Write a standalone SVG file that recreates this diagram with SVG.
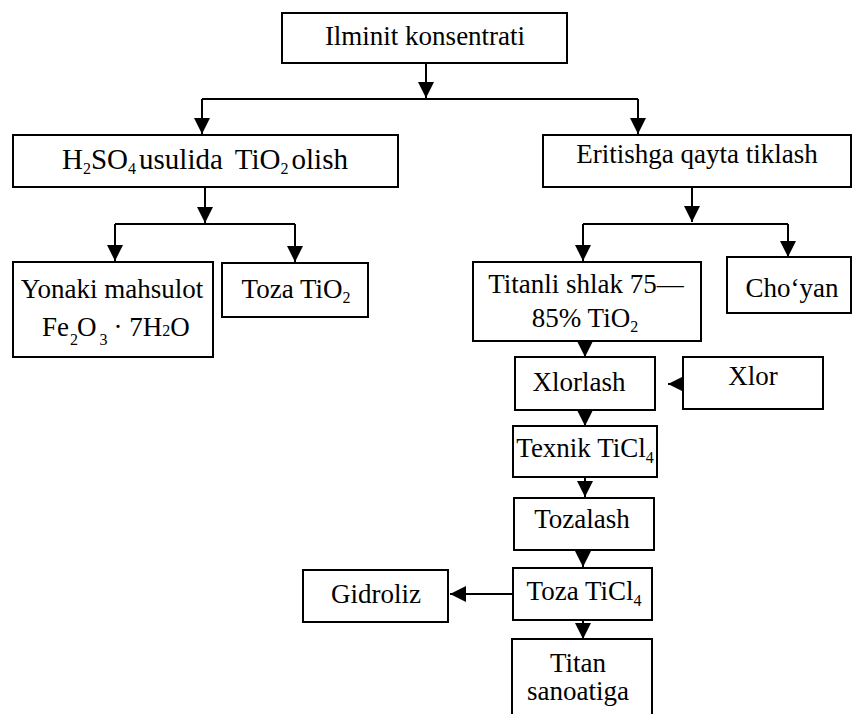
<svg xmlns="http://www.w3.org/2000/svg" width="853" height="714" viewBox="0 0 853 714">
<style>
.box{fill:#fff;stroke:#000;stroke-width:2}
.t{font-family:"Liberation Serif","Times New Roman",serif;font-size:27px;fill:#000}
.m{text-anchor:middle}
.s{font-size:16px}
.c{fill:none;stroke:#000;stroke-width:2}
</style>
<defs>
<marker id="ah" markerUnits="userSpaceOnUse" viewBox="0 0 16 16" refX="16" refY="8" markerWidth="16" markerHeight="16" orient="auto">
<path d="M0,0 L16,8 L0,16 z" fill="#000"/>
</marker>
</defs>
<rect width="853" height="714" fill="#fff"/>
<g id="connectors">
<path class="c" d="M426,63 V98" marker-end="url(#ah)"/>
<path class="c" d="M202,99 H638"/>
<path class="c" d="M202,99 V134" marker-end="url(#ah)"/>
<path class="c" d="M638,99 V134" marker-end="url(#ah)"/>
<path class="c" d="M205,187 V223" marker-end="url(#ah)"/>
<path class="c" d="M115,224 H295"/>
<path class="c" d="M115,224 V261" marker-end="url(#ah)"/>
<path class="c" d="M295,224 V262" marker-end="url(#ah)"/>
<path class="c" d="M692,187 V222" marker-end="url(#ah)"/>
<path class="c" d="M583,224 H788"/>
<path class="c" d="M583,224 V261" marker-end="url(#ah)"/>
<path class="c" d="M788,224 V257" marker-end="url(#ah)"/>
<path class="c" d="M585,341 V357" marker-end="url(#ah)"/>
<path class="c" d="M683,384 H668" marker-end="url(#ah)"/>
<path class="c" d="M585,410 V426" marker-end="url(#ah)"/>
<path class="c" d="M585,477 V497" marker-end="url(#ah)"/>
<path class="c" d="M583,550 V567" marker-end="url(#ah)"/>
<path class="c" d="M513,594 H450" marker-end="url(#ah)"/>
<path class="c" d="M583,620 V639" marker-end="url(#ah)"/>
</g>
<g id="n-ilminit">
<rect class="box" x="282" y="13" width="285" height="50"/>
<text class="t m" x="425" y="45">Ilminit konsentrati</text>
</g>
<g id="n-h2so4">
<rect class="box" x="13" y="135" width="385" height="52"/>
<text class="t m" x="205" y="169" style="font-size:29px">H<tspan class="s" dy="5">2</tspan><tspan dy="-5">SO</tspan><tspan class="s" dy="5">4</tspan><tspan dy="-5" dx="3">usulida</tspan><tspan dx="12">TiO</tspan><tspan class="s" dy="5">2</tspan><tspan dy="-5" dx="3">olish</tspan></text>
</g>
<g id="n-eritish">
<rect class="box" x="543" y="135" width="308" height="52"/>
<text class="t m" x="697" y="163">Eritishga qayta tiklash</text>
</g>
<g id="n-yonaki">
<rect class="box" x="13" y="262" width="200" height="95"/>
<text class="t m" x="112" y="298">Yonaki mahsulot</text>
<text class="t" x="42" y="336">Fe<tspan class="s" dx="1" dy="9">2</tspan><tspan dy="-9" dx="-1">O</tspan><tspan class="s" dx="3" dy="9">3</tspan><tspan dy="-9" dx="6">· 7H</tspan><tspan class="s">2</tspan>O</text>
</g>
<g id="n-tozatio2">
<rect class="box" x="222" y="263" width="146" height="54"/>
<text class="t m" x="296" y="298">Toza TiO<tspan class="s" dy="5">2</tspan></text>
</g>
<g id="n-titanli">
<rect class="box" x="473" y="262" width="228" height="79"/>
<text class="t m" x="586" y="293">Titanli shlak 75—</text>
<text class="t m" x="585" y="327">85% TiO<tspan class="s" dy="5">2</tspan></text>
</g>
<g id="n-choyan">
<rect class="box" x="727" y="257" width="124" height="56"/>
<text class="t m" x="792" y="297">Cho‘yan</text>
</g>
<g id="n-xlorlash">
<rect class="box" x="515" y="357" width="140" height="53"/>
<text class="t m" x="579" y="391">Xlorlash</text>
</g>
<g id="n-xlor">
<rect class="box" x="683" y="357" width="140" height="52"/>
<text class="t m" x="753" y="385">Xlor</text>
</g>
<g id="n-texnik">
<rect class="box" x="513" y="426" width="144" height="51"/>
<text class="t m" x="585" y="457">Texnik TiCl<tspan class="s" dy="6">4</tspan></text>
</g>
<g id="n-tozalash">
<rect class="box" x="514" y="498" width="140" height="52"/>
<text class="t m" x="582" y="528">Tozalash</text>
</g>
<g id="n-tozaticl4">
<rect class="box" x="513" y="568" width="139" height="52"/>
<text class="t m" x="584" y="600">Toza TiCl<tspan class="s" dy="6">4</tspan></text>
</g>
<g id="n-gidroliz">
<rect class="box" x="303" y="570" width="145" height="52"/>
<text class="t m" x="376" y="603">Gidroliz</text>
</g>
<g id="n-titan">
<rect class="box" x="512" y="639" width="140" height="90"/>
<text class="t m" x="578" y="672">Titan</text>
<text class="t m" x="578" y="700">sanoatiga</text>
</g>
</svg>
